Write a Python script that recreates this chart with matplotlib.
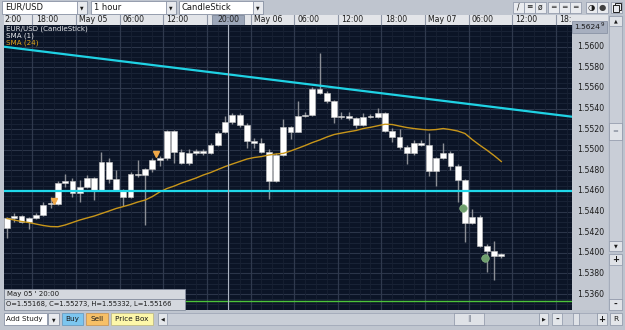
import matplotlib
matplotlib.use("Agg")
import matplotlib.pyplot as plt
from matplotlib.patches import Rectangle
import numpy as np

# ---------------- data ----------------
opens = [1.54240, 1.54338, 1.54357, 1.54302, 1.54338, 1.54367, 1.54473, 1.54473, 1.54677, 1.54697,
         1.54583, 1.54641, 1.54729, 1.54609, 1.54878, 1.54713, 1.54609, 1.54544, 1.54765, 1.54752,
         1.54810, 1.54900, 1.54917, 1.55182, 1.54981, 1.54868, 1.54971, 1.54988, 1.54965, 1.55046,
         1.55168, 1.55273, 1.55337, 1.55240, 1.55085, 1.55070, 1.54981, 1.54700, 1.54949, 1.55218,
         1.55175, 1.55327, 1.55337, 1.55587, 1.55551, 1.55473, 1.55320, 1.55327, 1.55305, 1.55240,
         1.55320, 1.55320, 1.55354, 1.55185, 1.55121, 1.55030, 1.54965, 1.55068, 1.55046, 1.54794,
         1.54917, 1.54971, 1.54842, 1.54707, 1.54286, 1.54350, 1.54066, 1.54020, 1.53969]
closes = [1.54338, 1.54357, 1.54302, 1.54338, 1.54367, 1.54464, 1.54486, 1.54677, 1.54697, 1.54583,
          1.54641, 1.54729, 1.54609, 1.54878, 1.54713, 1.54609, 1.54544, 1.54765, 1.54752, 1.54810,
          1.54900, 1.54917, 1.55182, 1.54981, 1.54868, 1.54971, 1.54988, 1.54968, 1.55046, 1.55165,
          1.55273, 1.55337, 1.55240, 1.55085, 1.55070, 1.54981, 1.54700, 1.54949, 1.55218, 1.55175,
          1.55327, 1.55337, 1.55587, 1.55551, 1.55473, 1.55320, 1.55327, 1.55305, 1.55240, 1.55320,
          1.55327, 1.55354, 1.55185, 1.55121, 1.55030, 1.54965, 1.55068, 1.55046, 1.54794, 1.54917,
          1.54971, 1.54842, 1.54707, 1.54286, 1.54350, 1.54066, 1.54020, 1.53969, 1.53985]
highs = [1.54347, 1.54386, 1.54366, 1.54347, 1.54386, 1.54496, 1.54541, 1.54696, 1.54765, 1.54726,
         1.54706, 1.54755, 1.54738, 1.54981, 1.54919, 1.54803, 1.54619, 1.54784, 1.54900, 1.54823,
         1.54919, 1.54939, 1.55192, 1.55192, 1.55010, 1.55010, 1.55007, 1.55007, 1.55065, 1.55182,
         1.55332, 1.55357, 1.55357, 1.55260, 1.55114, 1.55114, 1.55010, 1.54968, 1.55295, 1.55230,
         1.55473, 1.55366, 1.55609, 1.55939, 1.55570, 1.55483, 1.55366, 1.55366, 1.55318, 1.55357,
         1.55347, 1.55405, 1.55366, 1.55211, 1.55201, 1.55046, 1.55094, 1.55094, 1.55160, 1.54929,
         1.55062, 1.54988, 1.54862, 1.54716, 1.54425, 1.54366, 1.54085, 1.54114, 1.53998]
lows = [1.54143, 1.54299, 1.54289, 1.54231, 1.54328, 1.54357, 1.54435, 1.54464, 1.54641, 1.54544,
        1.54496, 1.54629, 1.54512, 1.54599, 1.54677, 1.54599, 1.54454, 1.54536, 1.54738, 1.54270,
        1.54784, 1.54842, 1.54900, 1.54871, 1.54862, 1.54852, 1.54949, 1.54949, 1.54958, 1.55036,
        1.55166, 1.55250, 1.55221, 1.55017, 1.55017, 1.54968, 1.54522, 1.54687, 1.54939, 1.55104,
        1.55172, 1.55318, 1.55327, 1.55541, 1.55454, 1.55262, 1.55298, 1.55289, 1.55211, 1.55230,
        1.55308, 1.55308, 1.55172, 1.55075, 1.55007, 1.54862, 1.54949, 1.55036, 1.54745, 1.54648,
        1.54910, 1.54803, 1.54496, 1.54105, 1.54279, 1.54056, 1.53813, 1.53736, 1.53949]
sma24 = [1.54333, 1.54318, 1.54304, 1.54294, 1.54279, 1.54265, 1.54255, 1.54253, 1.54270, 1.54294,
         1.54318, 1.54338, 1.54357, 1.54381, 1.54405, 1.54430, 1.54449, 1.54469, 1.54493, 1.54512,
         1.54546, 1.54590, 1.54624, 1.54648, 1.54677, 1.54701, 1.54726, 1.54755, 1.54779, 1.54808,
         1.54837, 1.54862, 1.54886, 1.54910, 1.54925, 1.54934, 1.54949, 1.54959, 1.54965, 1.54988,
         1.55014, 1.55041, 1.55070, 1.55095, 1.55124, 1.55148, 1.55162, 1.55175, 1.55187, 1.55206,
         1.55218, 1.55233, 1.55248, 1.55245, 1.55230, 1.55216, 1.55206, 1.55198, 1.55192, 1.55196,
         1.55206, 1.55196, 1.55182, 1.55158, 1.55099, 1.55046, 1.54997, 1.54944, 1.54886]

signal_idx = [6.5, 20.5]
signal_price = [1.54507, 1.54963]
dot_idx = [62.7, 65.7]
dot_price = [1.54437, 1.53952]
trend_idx = [-0.41, 77.72]
trend_price = [1.56000, 1.55321]
support_level = 1.5460
green_level = 1.53535
cursor_idx = 30.45

time_sep = [3.5, 9.5, 15.5, 21.5, 27.5, 33.5, 39.5, 45.5, 51.5, 57.5, 63.5, 69.5, 75.5]
time_labels = ["18:00", "May 05", "06:00", "12:00", "18:00", "May 06", "06:00", "12:00",
               "18:00", "May 07", "06:00", "12:00", "18:"]
price_ticks = [1.5360, 1.5380, 1.5400, 1.5420, 1.5440, 1.5460, 1.5480, 1.5500,
               1.5520, 1.5540, 1.5560, 1.5580, 1.5600]
info_line1 = "May 05 ' 20:00"
info_line2 = "O=1.55168, C=1.55273, H=1.55332, L=1.55166"

# ---------------- figure ----------------
W, H = 625, 330
fig = plt.figure(figsize=(W / 100, H / 100), dpi=100)
fig.patch.set_facecolor('#bfc5cf')
FONT = ['DejaVu Sans']

def fbox(x0, y0, x1, y1):
    return [x0 / W, 1 - y1 / H, (x1 - x0) / W, (y1 - y0) / H]

def rect(x0, y0, x1, y1, fc, ec='none', lw=0.8, z=1):
    fig.add_artist(Rectangle((x0 / W, 1 - y1 / H), (x1 - x0) / W, (y1 - y0) / H,
                             transform=fig.transFigure, facecolor=fc, edgecolor=ec, lw=lw, zorder=z))

def ftext(x, y, s, size=5.4, color='#1a1a1a', ha='left', va='center', z=5, **kw):
    fig.text(x / W, 1 - y / H, s, fontsize=size, color=color, ha=ha, va=va,
             family=FONT, zorder=z, **kw)

XL = (-0.41, 77.72)
YL = (1.53445, 1.56211)

# main plot
ax = fig.add_axes(fbox(4, 25, 572, 310))
ax.set_facecolor('#0b1426')
ax.set_xlim(*XL)
ax.set_ylim(*YL)
ax.set_xticks([])
ax.set_yticks([])
for s in ax.spines.values():
    s.set_visible(False)

# grid
for p in np.arange(1.5350, 1.5625, 0.0005):
    ax.axhline(p, color='#1b2538', lw=0.6, zorder=0)
for p in price_ticks:
    ax.axhline(p, color='#2b3549', lw=0.8, zorder=0)
for t in np.arange(-2.5, 78, 1.5):
    ax.axvline(t, color='#172033', lw=0.6, zorder=0)
for t in time_sep:
    ax.axvline(t, color='#2f394d', lw=0.9, zorder=0)

idx = np.arange(len(opens))
o = np.array(opens); c = np.array(closes)
bottom = np.minimum(o, c)
height = np.maximum(np.abs(c - o), 0.00012)
ax.vlines(idx, lows, highs, color='#8c8f96', lw=1.0, zorder=2)
ax.bar(idx, height, bottom=bottom, width=0.8, color='white', edgecolor='#c8c8c8', lw=0.4, zorder=3)

ax.plot(idx, sma24, color='#c8961a', lw=1.0, zorder=4)
ax.plot(trend_idx, trend_price, color='#1fd2e4', lw=1.6, zorder=4)
ax.axhline(support_level, color='#1fd8ea', lw=1.6, zorder=4)
ax.axhline(green_level, color='#4cc43a', lw=1.0, zorder=4)
ax.axvline(cursor_idx, color='#aeb6c4', lw=0.8, zorder=5)
ax.plot(signal_idx, signal_price, 'v', color='#f0a848', ms=4.5, zorder=6)
ax.plot(dot_idx, dot_price, 'o', color='#6f9f6e', ms=5.5, zorder=6, mec='#8fbf8a', mew=0.4)

ax.text(2 / 568, 1 - 4 / 285, "EUR/USD (CandleStick)", transform=ax.transAxes, fontsize=5.1,
        color='#e6e8ec', va='center', family=FONT, zorder=7)
ax.text(2 / 568, 1 - 11 / 285, "SMA (1)", transform=ax.transAxes, fontsize=5.1,
        color='#e6e8ec', va='center', family=FONT, zorder=7)
ax.text(2 / 568, 1 - 18 / 285, "SMA (24)", transform=ax.transAxes, fontsize=5.1,
        color='#e0a418', va='center', family=FONT, zorder=7)

# info box
rect(4, 289, 185, 299, '#d4d8de', '#8890a0', 0.6, z=10)
rect(4, 299, 185, 309.5, '#d4d8de', '#8890a0', 0.6, z=10)
ftext(7, 294, info_line1, size=5.0, z=11)
ftext(6.5, 304.3, info_line2, size=4.85, z=11)

# time axis row
tax = fig.add_axes(fbox(4, 15, 572, 25))
tax.set_facecolor('#e3e5e9')
tax.set_xlim(*XL)
tax.set_ylim(0, 1)
tax.set_xticks([]); tax.set_yticks([])
for s in tax.spines.values():
    s.set_visible(False)
tax.text(-0.35, 0.5, "2:00", fontsize=5.6, va='center', ha='left', family=FONT, color='#1a1a1a')
box_left = cursor_idx - 2.2
for t, lab in zip(time_sep, time_labels):
    tax.axvline(t, color='#8e96a6', lw=0.8)
    tt = tax.text(t + 0.45, 0.5, lab, fontsize=5.6, va='center', ha='left', family=FONT,
                  color='#1a1a1a', clip_on=True)
    if t < cursor_idx < t + 6:
        # label partly hidden under the cursor time box
        clip = Rectangle((t, 0), box_left - t, 1, transform=tax.transData, visible=False)
        tax.add_patch(clip)
        tt.set_clip_path(clip)
tax.add_patch(Rectangle((box_left, 0), 4.4, 1, facecolor='#9ca6b8', edgecolor='#7d879a',
                        lw=0.6, zorder=5))
tax.text(cursor_idx, 0.5, "20:00", fontsize=5.6, va='center', ha='center', family=FONT,
         color='#1a1a1a', zorder=6)
rect(572, 15, 608, 23, '#e3e5e9')

# price axis
pax = fig.add_axes(fbox(572, 25, 608, 310))
pax.set_facecolor('#c3c8d1')
pax.set_xlim(0, 1)
pax.set_ylim(*YL)
pax.set_xticks([]); pax.set_yticks([])
for s in pax.spines.values():
    s.set_visible(False)
for p in price_ticks:
    pax.text(0.52, p, f"{p:.4f}", fontsize=5.6, ha='center', va='center', family=FONT, color='#1a1a1a')
rect(572, 21, 607, 33, '#a7afbf', '#8a93a5', 0.6, z=6)
ftext(587, 27.3, "1.5624", size=5.4, ha='center', z=7)
ftext(600.5, 24.3, "9", size=4.0, ha='left', z=7)

# right scrollbar
rect(608, 15, 625, 330, '#bcc3ce')
rect(609, 16, 622, 26, '#dfe2e7', '#8a93a5', 0.5)
ftext(615.5, 21, "\u25b2", size=3.5, ha='center')
rect(609, 26, 622, 241, '#c9ced7', '#9aa2b2', 0.5)
rect(609, 123, 622, 140, '#dfe2e7', '#8a93a5', 0.5)
ftext(615.5, 131.5, "=", size=5, ha='center', color='#707888')
rect(609, 241, 622, 251, '#dfe2e7', '#8a93a5', 0.5)
ftext(615.5, 246, "\u25bc", size=3.5, ha='center')
rect(609, 254, 622, 265, '#dfe2e7', '#8a93a5', 0.5)
ftext(615.5, 259.5, "+", size=6, ha='center', weight='bold')
rect(609, 265, 622, 299, '#c9ced7', '#9aa2b2', 0.5)
rect(609, 299, 622, 310, '#dfe2e7', '#8a93a5', 0.5)
ftext(615.5, 304.5, "-", size=6.5, ha='center', weight='bold')

# top toolbar
rect(0, 0, 625, 15, '#bfc5cf')
for x0, x1, lab in [(2, 87, "EUR/USD"), (91, 176, "1 hour"), (179, 263, "CandleStick")]:
    rect(x0, 1, x1, 13.5, 'white', '#8a93a5', 0.6)
    rect(x1 - 10, 1, x1, 13.5, '#e8eaee', '#8a93a5', 0.6)
    ftext(x0 + 3, 7.3, lab, size=6.0)
    ftext(x1 - 5, 7.8, "\u25bc", size=3.3, ha='center')
for x0 in [513, 524, 535, 548, 559, 570, 586, 597, 611]:
    rect(x0, 2, x0 + 10.5, 12.5, '#e9ebef', '#8a93a5', 0.5)
ftext(518, 7, "/", size=5.5, ha='center')
ftext(529, 7, "\u2261", size=5.5, ha='center')
ftext(540, 7, "\u00f8", size=5.5, ha='center')
for x0 in [548, 559, 570]:
    ftext(x0 + 5.2, 7, "\u2550", size=5.5, ha='center', color='#303030')
ftext(591.2, 7.2, "\u25d1", size=6, ha='center')
ftext(602.2, 7.2, "\u25cf", size=6, ha='center', color='#404040')
# restore-window icon drawn as two small squares
rect(614.5, 3.5, 620.5, 9.5, 'none', '#202020', 0.7, z=4)
rect(612.5, 5.5, 618.5, 11.5, '#e9ebef', '#202020', 0.7, z=4)

# bottom bar
rect(0, 310, 608, 330, '#bfc5cf')
rect(4, 313, 47, 325, 'white', '#8a93a5', 0.6)
ftext(6.5, 319, "Add Study", size=5.1)
rect(48, 313, 59, 325, '#e8eaee', '#8a93a5', 0.6)
ftext(53.5, 319.5, "\u25bc", size=3.3, ha='center')
rect(62, 313, 83, 325, '#7cc6ef', '#6a9cc0', 0.6)
ftext(72.5, 319, "Buy", size=5.2, ha='center')
rect(86, 313, 108, 325, '#f7c067', '#c8985a', 0.6)
ftext(97, 319, "Sell", size=5.2, ha='center')
rect(111, 313, 153, 325, '#fdf7a9', '#c0bb88', 0.6)
ftext(132, 319, "Price Box", size=5.2, ha='center')
rect(158, 313, 167, 325, '#e3e6ea', '#8a93a5', 0.5)
ftext(162.5, 319, "\u25c0", size=3.5, ha='center')
rect(167, 313, 539, 325, '#c9ced7', '#9aa2b2', 0.5)
rect(454, 313, 484, 325, '#dfe2e7', '#8a93a5', 0.5)
ftext(469, 319, "\u2016", size=5, ha='center', color='#707888')
rect(539, 313, 548, 325, '#e3e6ea', '#8a93a5', 0.5)
ftext(543.5, 319, "\u25b6", size=3.5, ha='center')
rect(552, 313, 562, 325, '#e3e6ea', '#8a93a5', 0.5)
ftext(557, 319, "-", size=6.5, ha='center', weight='bold')
rect(562, 313, 597, 325, '#c9ced7', '#9aa2b2', 0.5)
rect(573, 313, 579, 325, '#dfe2e7', '#8a93a5', 0.5)
rect(597, 313, 607, 325, '#e3e6ea', '#8a93a5', 0.5)
ftext(602, 319, "+", size=6, ha='center', weight='bold')
rect(610, 313, 622, 325, '#e3e6ea', '#8a93a5', 0.5)
ftext(616, 319, "R", size=5.4, ha='center')

fig.savefig("out.png", dpi=100, facecolor=fig.get_facecolor())
